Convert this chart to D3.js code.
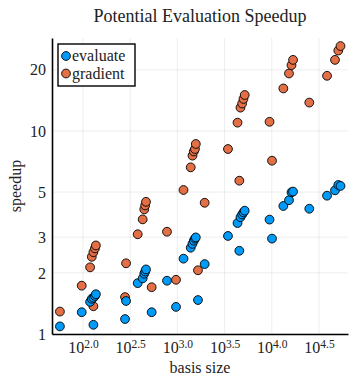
<!DOCTYPE html>
<html>
<head>
<meta charset="utf-8">
<script src="https://cdn.jsdelivr.net/npm/d3@7"></script>
<style>
  body { margin: 0; background: #fff; }
  text { font-family: "Liberation Serif", "DejaVu Serif", serif; fill: #222; }
</style>
</head>
<body>
<svg id="chart"></svg>
<script>
// basis sizes and speedups
const basisSize = [57, 97, 129, 119, 124, 129, 134, 137, 279, 286,
    380, 429, 446, 456, 465, 534, 776, 967, 1161,
    1384, 1445, 1493, 1535, 1567, 1652, 1945, 3434,
    4335, 4656, 4853, 5010, 5165, 4529, 9462, 10050,
    13250, 15210, 16170, 16790, 24950, 38460, 46700, 50600, 53400];
const evaluateSpeedup = [1.09, 1.28, 1.11, 1.44, 1.49, 1.51, 1.54, 1.57, 1.185, 1.454,
    1.78, 1.88, 1.98, 2.03, 2.08, 1.28, 1.83, 1.36, 2.35,
    2.66, 2.78, 2.88, 2.95, 2.99, 1.47, 2.21, 3.04,
    3.52, 3.76, 3.88, 3.97, 4.05, 2.57, 3.66, 2.95,
    4.27, 4.56, 4.99, 5.03, 4.14, 4.80, 5.10, 5.42, 5.36];
const gradientSpeedup = [1.29, 1.73, 1.37, 2.13, 2.40, 2.53, 2.64, 2.73, 1.52, 2.23,
    3.10, 3.67, 4.11, 4.30, 4.48, 1.70, 3.19, 1.85, 5.12,
    6.62, 7.56, 7.93, 8.15, 8.63, 2.06, 4.43, 8.15,
    10.99, 13.03, 13.66, 14.38, 15.04, 5.69, 11.1, 7.14,
    16.2, 19.2, 21.1, 22.4, 13.8, 18.7, 22.4, 24.9, 26.2];
const xTickExp = ["2.0", "2.5", "3.0", "3.5", "4.0", "4.5"];
const yTicks = [1, 2, 3, 5, 10, 20];
const seriesNames = ["evaluate", "gradient"];
const seriesColors = ["#009af9", "#e26f46"];

const W = 355, H = 382;
const margin = { top: 38, right: 7, bottom: 48, left: 52 },
    width = W - margin.left - margin.right,
    height = H - margin.top - margin.bottom;

const svg = d3.select("#chart")
    .attr("width", W)
    .attr("height", H);

const g = svg.append("g")
    .attr("transform", `translate(${margin.left}, ${margin.top})`);

const x = d3.scaleLog()
    .domain([Math.pow(10, 1.672), Math.pow(10, 4.807)])
    .range([0, width]);
const y = d3.scaleLog()
    .domain([1, Math.pow(10, 1.458)])
    .range([height, 0]);

const xTickVals = xTickExp.map(e => Math.pow(10, +e));

// grid
g.append("g").selectAll("line")
    .data(xTickVals).enter().append("line")
    .attr("x1", d => x(d)).attr("x2", d => x(d))
    .attr("y1", 0).attr("y2", height)
    .attr("stroke", "#000").attr("stroke-opacity", 0.1).attr("stroke-width", 0.7);
g.append("g").selectAll("line")
    .data(yTicks).enter().append("line")
    .attr("x1", 0).attr("x2", width)
    .attr("y1", d => y(d)).attr("y2", d => y(d))
    .attr("stroke", "#000").attr("stroke-opacity", 0.1).attr("stroke-width", 0.7);

// axes
const xAxis = g.append("g")
    .attr("transform", `translate(0, ${height})`)
    .call(d3.axisBottom(x).tickValues(xTickVals).tickSize(0).tickFormat(""));
xAxis.select(".domain").attr("stroke", "#000").attr("stroke-width", 1.6);
xAxis.selectAll(".tick text").each(function (d, i) {
    const t = d3.select(this)
        .attr("y", 19)
        .attr("dy", 0)
        .attr("text-anchor", "middle")
        .style("font-size", "16px")
        .style("font-family", "'Liberation Serif', serif");
    t.append("tspan").text("10");
    t.append("tspan").attr("dy", "-0.42em").style("font-size", "11.5px").text(xTickExp[i]);
});

const yAxis = g.append("g")
    .call(d3.axisLeft(y).tickValues(yTicks).tickSize(0).tickPadding(6).tickFormat(d3.format("d")));
yAxis.select(".domain").attr("stroke", "#000").attr("stroke-width", 1.6);
yAxis.selectAll(".tick text")
    .style("font-size", "16px")
    .style("font-family", "'Liberation Serif', serif");

// points
const pts = basisSize.map((b, i) => ({ b: b, e: evaluateSpeedup[i], gr: gradientSpeedup[i] }));
g.append("g").selectAll("circle")
    .data(pts).enter().append("circle")
    .attr("cx", d => x(d.b)).attr("cy", d => y(d.gr)).attr("r", 4.4)
    .attr("fill", seriesColors[1]).attr("stroke", "#000").attr("stroke-width", 0.9);
g.append("g").selectAll("circle")
    .data(pts).enter().append("circle")
    .attr("cx", d => x(d.b)).attr("cy", d => y(d.e)).attr("r", 4.4)
    .attr("fill", seriesColors[0]).attr("stroke", "#000").attr("stroke-width", 0.9);

// legend
const leg = g.append("g").attr("transform", "translate(6, 6)");
leg.append("rect")
    .attr("width", 77).attr("height", 42)
    .attr("fill", "#fff").attr("stroke", "#000").attr("stroke-width", 1.4);
seriesNames.forEach((name, i) => {
    leg.append("circle")
        .attr("cx", 8).attr("cy", 12 + i * 17.5).attr("r", 4.4)
        .attr("fill", seriesColors[i]).attr("stroke", "#000").attr("stroke-width", 0.9);
    leg.append("text")
        .attr("x", 14).attr("y", 12 + i * 17.5).attr("dy", "0.33em")
        .style("font-size", "16px").text(name);
});

// titles
svg.append("text")
    .attr("x", margin.left + width / 2).attr("y", 22)
    .attr("text-anchor", "middle").style("font-size", "18px")
    .text("Potential Evaluation Speedup");
svg.append("text")
    .attr("x", margin.left + width / 2).attr("y", 373)
    .attr("text-anchor", "middle").style("font-size", "16px")
    .text("basis size");
svg.append("text")
    .attr("transform", `translate(21, ${margin.top + height / 2}) rotate(-90)`)
    .attr("text-anchor", "middle").style("font-size", "16px")
    .text("speedup");
</script>
</body>
</html>
